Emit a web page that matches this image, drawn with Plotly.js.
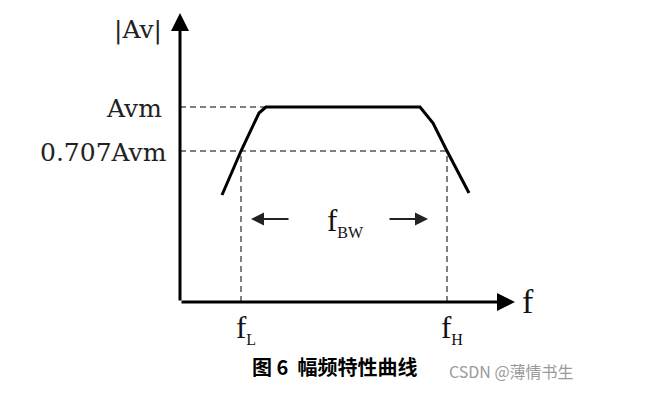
<!DOCTYPE html>
<html><head><meta charset="utf-8">
<script src="https://cdn.plot.ly/plotly-3.0.1.min.js"></script>
<style>html,body{margin:0;padding:0;background:#fff}#chart{width:660px;height:407px}</style>
</head><body><div id="chart"></div>
<script>
// schematic units: origin of the f / |Av| axes at (0,0)
const axisTip = {f: 335, av: 289};
const levelAvm = 195;
const level707 = 151;
const fL = 61;
const fH = 267;
const curveF = [42, 61, 79, 86, 240, 253, 267, 278, 289];
const curveAv = [107, 151, 189, 195, 195, 179, 151, 130, 109];
const bwArrowY = 83;
const bwLeft = [110, 71];   // tail, tip
const bwRight = [208, 248]; // tail, tip
const yLabels = ['|Av|', 'Avm', '0.707Avm'];
const subOpen = '<sub><span style="font-size:16px">';
const subClose = '</span></sub>';
const xLabels = ['f', 'f' + subOpen + 'L' + subClose, 'f' + subOpen + 'H' + subClose, 'f' + subOpen + 'BW' + subClose];
const caption = '<b>图 6  幅频特性曲线</b>';
const watermark = 'CSDN @薄情书生';

const dashStyle = {color: '#555', width: 1.5, dash: '6px,4px'};
const traces = [
  {x: [0, curveF[3]], y: [levelAvm, levelAvm], mode: 'lines', line: dashStyle},
  {x: [0, fH], y: [level707, level707], mode: 'lines', line: dashStyle},
  {x: [fL, fL], y: [0, level707], mode: 'lines', line: dashStyle},
  {x: [fH, fH], y: [0, level707], mode: 'lines', line: dashStyle},
  {x: curveF, y: curveAv, mode: 'lines', line: {color: '#000', width: 3}}
];

const serifFont = {family: 'DejaVu Serif, serif', size: 25, color: '#222'};
const fFont = {family: 'Liberation Serif, serif', size: 34, color: '#111'};
const fSubFont = {family: 'Liberation Serif, serif', size: 31, color: '#111'};
function arrow(x, y, ax, ay, w, col, size) {
  return {x: x, y: y, ax: ax, ay: ay, xref: 'x', yref: 'y', axref: 'x', ayref: 'y',
    text: '', showarrow: true, arrowhead: 2, arrowwidth: w, arrowcolor: col, arrowsize: size, standoff: 0, startstandoff: 0};
}
const annotations = [
  arrow(axisTip.f, 0, 0, 0, 3, '#000', 1.2),
  arrow(0, axisTip.av, 0, 0, 3, '#000', 1.2),
  arrow(bwLeft[1], bwArrowY, bwLeft[0], bwArrowY, 2, '#222', 1.3),
  arrow(bwRight[1], bwArrowY, bwRight[0], bwArrowY, 2, '#222', 1.3),
  {x: -16, y: 272, xref: 'x', yref: 'y', text: yLabels[0], showarrow: false, xanchor: 'right', font: serifFont},
  {x: -16, y: levelAvm - 1, xref: 'x', yref: 'y', text: yLabels[1], showarrow: false, xanchor: 'right', font: serifFont},
  {x: -11, y: level707 - 1, xref: 'x', yref: 'y', text: yLabels[2], showarrow: false, xanchor: 'right', font: serifFont},
  {x: 340, y: 1, xref: 'x', yref: 'y', text: xLabels[0], showarrow: false, xanchor: 'left', font: fFont},
  {x: fL - 7, y: -27, xref: 'x', yref: 'y', text: xLabels[1], showarrow: false, xanchor: 'left', yanchor: 'middle', font: fSubFont},
  {x: fH - 8, y: -27, xref: 'x', yref: 'y', text: xLabels[2], showarrow: false, xanchor: 'left', yanchor: 'middle', font: fSubFont},
  {x: 145, y: 80, xref: 'x', yref: 'y', text: xLabels[3], showarrow: false, xanchor: 'left', yanchor: 'middle', font: fSubFont},
  {x: 334, y: 383, xref: 'paper', yref: 'paper', text: caption, showarrow: false, font: {family: 'Noto Sans CJK SC', size: 20, color: '#000'}},
  {x: 576, y: 385, xref: 'paper', yref: 'paper', text: watermark, showarrow: false, font: {family: 'Noto Sans CJK SC, Liberation Sans', size: 16, color: '#9a9a9a'}}
];
// convert paper pixel positions
annotations.forEach(a => { if (a.xref === 'paper') { a.x = a.x / 660; a.y = 1 - a.y / 407; } });

const layout = {
  width: 660, height: 407, margin: {l: 0, r: 0, t: 0, b: 0},
  paper_bgcolor: '#fff', plot_bgcolor: '#fff', showlegend: false,
  xaxis: {range: [-180, 480], visible: false, fixedrange: true},
  yaxis: {range: [-105, 302], visible: false, fixedrange: true},
  annotations: annotations
};
Plotly.newPlot('chart', traces, layout, {displayModeBar: false, staticPlot: true});
</script></body></html>
